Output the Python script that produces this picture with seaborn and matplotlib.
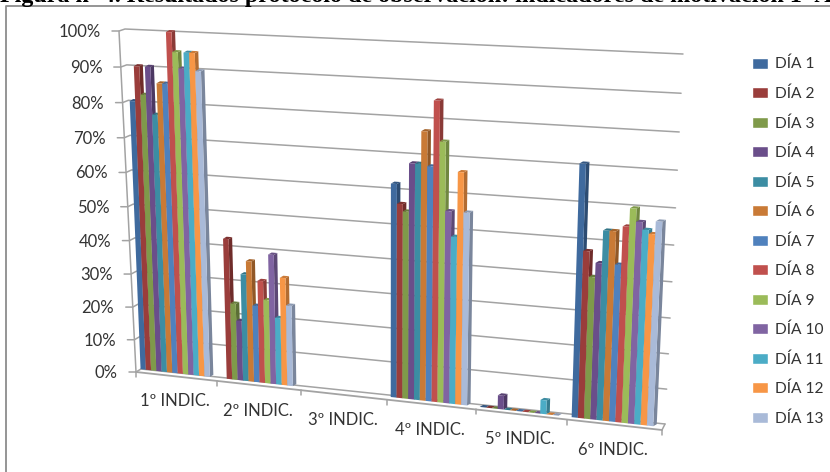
import numpy as np
import pandas as pd
import matplotlib
matplotlib.use("Agg")
import matplotlib.pyplot as plt
import matplotlib.colors as mcolors
from matplotlib.patches import Polygon
from matplotlib.transforms import Transform
import seaborn as sns

INDICADORES = ["1º INDIC.", "2º INDIC.", "3º INDIC.", "4º INDIC.", "5º INDIC.", "6º INDIC."]
DIAS = ["DÍA %d" % i for i in range(1, 14)]
NA = np.nan
INDIC_1 = [80, 90, 82, 90, 76.5, 85.5, 85.5, 100, 94.5, 90, 94.5, 94.5, 89.5]
INDIC_2 = [NA, 42, 23, 18, 32, 36, 23, 30.5, 25, 38.5, 20, 32, 24]
INDIC_3 = [NA] * 13
INDIC_4 = [61.5, 56, 54, 67.5, 67.5, 76.5, 67, 85, 74, 55, 48, 66, 55]
INDIC_5 = [0, 0, 0, 4, 0, 0, 0, 0, 0, 0, 4, 0, 0]
INDIC_6 = [70.5, 47, 40, 44, 53, 53, 44, 54.5, 59.5, 56, 54, 53, 56.5]
TICKS = [0, 10, 20, 30, 40, 50, 60, 70, 80, 90, 100]
COLORES = ["#3F6A9E", "#9A3D3B", "#7F9A4A", "#6A4E8A", "#3C8DA3", "#C97A36", "#4F81BD",
           "#C0504D", "#9BBB59", "#8064A2", "#4BACC6", "#F79646", "#A9BAD8"]
TITULO = "Figura nº 4. Resultados protocolo de observación: indicadores de motivación 1º A."


class Perspective(Transform):
    input_dims = 2
    output_dims = 2

    def __init__(self, corners):
        super().__init__()
        # corners: pixel position of (x=-0.5,0), (5.5,0), (-0.5,100), (5.5,100)
        src = [(-0.5, 0), (5.5, 0), (-0.5, 100), (5.5, 100)]
        rows, rhs = [], []
        for (x, y), (px, py) in zip(src, corners):
            rows.append([x, y, 1, 0, 0, 0, -px * x, -px * y])
            rows.append([0, 0, 0, x, y, 1, -py * x, -py * y])
            rhs += [px, py]
        self.m = np.append(np.linalg.solve(np.array(rows, float), np.array(rhs, float)), 1).reshape(3, 3)

    def transform_non_affine(self, values):
        values = np.asarray(values, float)
        pts = np.column_stack([values, np.ones(len(values))]) @ self.m.T
        return pts[:, :2] / pts[:, [2]]


BAR_PLANE = Perspective([(135, 368.5), (660, 427), (121, 30), (677, 55)])
WALL_PLANE = Perspective([(141, 369), (665, 424), (125, 29), (683, 54)])
FRONT_PLANE = Perspective([(136, 372), (662, 430), (119, 31), (680, 58)])

datos = pd.DataFrame({"indicador": np.repeat(INDICADORES, len(DIAS)),
                      "dia": DIAS * len(INDICADORES),
                      "valor": INDIC_1 + INDIC_2 + INDIC_3 + INDIC_4 + INDIC_5 + INDIC_6})

sns.set_theme(style="white")
plt.rcParams["font.family"] = ["Lato", "DejaVu Sans"]

fig = plt.figure(figsize=(8.3, 4.72), dpi=100)
canvas = fig.add_axes([0, 0, 1, 1])
canvas.set_xlim(0, 830)
canvas.set_ylim(472, 0)
canvas.axis("off")

# frame and cut title
canvas.plot([6, 6, 830], [472, 6, 6], color="#8C8C8C", lw=1.3, clip_on=False)
canvas.text(0, 2, TITULO, family="Liberation Serif", weight="bold", fontsize=17.3, color="black",
            va="baseline", ha="left", clip_on=True)

GRID = "#A3A3A3"
TEXTO = "#333333"
pix = canvas.transData
for t in TICKS:
    wl, wr = WALL_PLANE.transform([(-0.5, t), (5.5, t)])
    fl = FRONT_PLANE.transform([(-0.5, t)])[0]
    canvas.plot([wr[0], wl[0], fl[0], fl[0] - 7], [wr[1], wl[1], fl[1], fl[1]], color=GRID, lw=1.1)
    canvas.text(fl[0] - 18.5, fl[1] + 1, "%d%%" % t, ha="right", va="center", fontsize=12, color=TEXTO)

fa, fb = FRONT_PLANE.transform([(-0.5, 100), (-0.5, 0)])
canvas.plot([fa[0], fb[0]], [fa[1], fb[1]], color=GRID, lw=1.1)
fl, fr = FRONT_PLANE.transform([(-0.5, 0), (5.5, 0)])
canvas.plot([fl[0], fr[0]], [fl[1], fr[1]], color=GRID, lw=1.3)
wr = WALL_PLANE.transform([(5.5, 0)])[0]
canvas.plot([fr[0], wr[0]], [fr[1], wr[1]], color=GRID, lw=1.1)
for i in range(7):
    p = FRONT_PLANE.transform([(i - 0.5, 0)])[0]
    canvas.plot([p[0], p[0]], [p[1], p[1] + 5], color=GRID, lw=1.1)
for i, nombre in enumerate(INDICADORES):
    p = FRONT_PLANE.transform([(i, 0)])[0]
    canvas.text(p[0] - 1, p[1] + 25, nombre, ha="center", va="center", fontsize=12, color=TEXTO)

# bars: seaborn draws them flat, then they are pushed through the perspective
ax = fig.add_axes([0, 0, 1, 1])
sns.barplot(data=datos, x="indicador", y="valor", hue="dia", order=INDICADORES, hue_order=DIAS,
            palette=COLORES, saturation=1, width=0.86, errorbar=None, ax=ax)
ax.set_xlim(-0.5, 5.5)
ax.set_ylim(0, 100)
ax.patch.set_alpha(0)
ax.axis("off")

DEPTH = np.array([3.5, -2])
to_pixels = BAR_PLANE + canvas.transData
for h, cont in enumerate(ax.containers):
    color = mcolors.to_rgb(COLORES[h])
    dark = tuple(c * 0.72 for c in color)
    top = tuple(c * 0.82 for c in color)
    for bar in cont:
        x0, x1 = bar.get_x(), bar.get_x() + bar.get_width()
        v = bar.get_height()
        if np.isnan(v):
            bar.set_visible(False)
            continue
        z = 3 + h * 0.1
        bar.set_transform(to_pixels)
        bar.set_clip_on(False)
        bar.set_zorder(z + 0.05)
        bar.set_linewidth(0)
        a, b, c, d = BAR_PLANE.transform([(x0, 0), (x1, 0), (x1, v), (x0, v)])
        ax.add_patch(Polygon([b, c, c + DEPTH, b + DEPTH], closed=True, facecolor=dark, lw=0,
                             transform=pix, zorder=z, clip_on=False))
        ax.add_patch(Polygon([d, c, c + DEPTH, d + DEPTH], closed=True, facecolor=top, lw=0,
                             transform=pix, zorder=z, clip_on=False))

sns.move_legend(ax, "upper left", bbox_to_anchor=(752 / 830, 1 - 57 / 472), title=None, frameon=False,
                fontsize=11.2, labelspacing=0.965, handlelength=1.0, handleheight=0.72,
                handletextpad=0.45, borderpad=0, borderaxespad=0, labelcolor=TEXTO)

fig.savefig("out.png", dpi=100, facecolor="white")
